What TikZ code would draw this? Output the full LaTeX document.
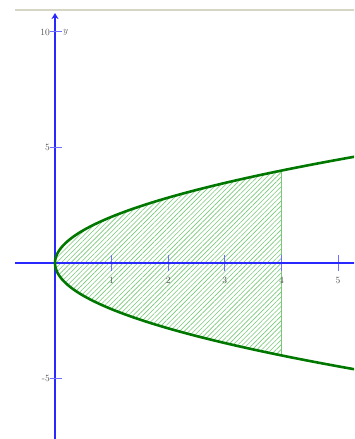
\documentclass[tikz,border=0pt]{standalone}
\usetikzlibrary{patterns.meta,arrows.meta}
\definecolor{axisblue}{RGB}{40,40,255}
\definecolor{tickblue}{RGB}{110,110,255}
\definecolor{curvegreen}{RGB}{0,120,0}
\definecolor{hatchgreen}{RGB}{120,200,120}
\definecolor{labgray}{RGB}{80,80,80}
\definecolor{topline}{RGB}{215,213,195}
\begin{document}
\begin{tikzpicture}[x=56.6bp,y=23.1bp,
  axisline/.style={axisblue,line width=1.4pt},
  tickmark/.style={tickblue,line width=1pt},
  ticklab/.style={labgray,font=\fontsize{9.5}{10}\selectfont,inner sep=1pt},
  curve/.style={curvegreen,line width=2.6pt},
  hatchfill/.style={pattern={Lines[angle=45,distance=3.4pt,line width=0.6pt]},pattern color=hatchgreen}]
\useasboundingbox (-0.9717,-7.619) rectangle (5.2827,11.385);
\fill[white] (-0.9717,-7.619) rectangle (5.2827,11.385);
\clip (-0.9717,-7.619) rectangle (5.2827,11.385);
% top border line
\draw[topline,line width=1.8pt] (-0.707,10.95) -- (5.3,10.95);
% hatched region
\fill[hatchfill] plot[domain=-4:4,samples=80,variable=\t] ({\t*\t/4},{\t}) -- cycle;
\draw[hatchgreen,line width=0.8pt] (4,-4) -- (4,4);
% x ticks
\foreach \i in {1,...,5} {
  \draw[tickmark] (\i,-0.35) -- (\i,0.35);
  \node[ticklab] (xl\i) at (\i,-0.75) {\i};
}
% axes
\coordinate (xs) at (-0.707,0);
\coordinate (xe) at (5.3,0);
\coordinate (ys) at (0,-7.7);
\coordinate (ye) at (0,10.82);
\draw[axisline] (xs) -- (xe);
\draw[axisline,-{Stealth[length=6bp,width=7bp]}] (ys) -- (ye);
% y ticks
\foreach \j in {-5,5,10} {
  \draw[tickmark] (-0.09,\j) -- (0.12,\j);
}
\node[ticklab,anchor=east] (yl10) at (-0.07,10) {10};
\node[ticklab,anchor=east] (yl5) at (-0.07,5) {5};
\node[ticklab,anchor=east] (ylm5) at (-0.07,-5) {-5};
\node[ticklab,anchor=west] (ylab) at (0.12,10) {\itshape y};
% parabola
\draw[curve] plot[domain=-4.8:4.8,samples=120,variable=\t] ({\t*\t/4},{\t});
\end{tikzpicture}
\end{document}
